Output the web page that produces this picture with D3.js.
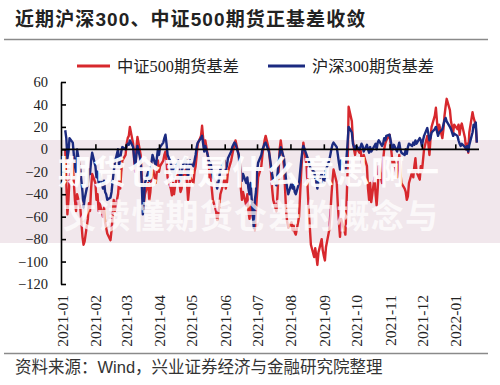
<!DOCTYPE html>
<html><head><meta charset="utf-8">
<script src="https://cdn.jsdelivr.net/npm/d3@7"></script>
<style>html,body{margin:0;padding:0;background:#fff;}svg{display:block;}</style>
</head><body>
<svg id="chart" width="500" height="385"></svg>
<script>
const titleText = "近期沪深300、中证500期货正基差收敛";
const sourceText = "资料来源：Wind，兴业证券经济与金融研究院整理";
const watermarkLines = ["期货仓差是什么意思啊一", "文读懂期货仓差的概念与"];
const seriesNames = ["中证500期货基差", "沪深300期货基差"];
const seriesColors = ["#d7282d", "#1b2a80"];
const yTickValues = [60, 40, 20, 0, -20, -40, -60, -80, -100, -120];
const monthLabels = ["2021-01","2021-02","2021-03","2021-04","2021-05","2021-06","2021-07","2021-08","2021-09","2021-10","2021-11","2021-12","2022-01"];
const firstDay = "2021-01-04", lastDay = "2022-01-21";

// 中证500期货基差 (one value per weekday)
const csi500 = [
  0,-30,-58,-45,-25,-12,-30,-45,-55,-40,-52,-65,-78,-85,-82,-62,-48,-55,-35,-22,
  -30,-45,-40,-55,-48,-60,-52,-65,-70,-75,-81,-72,-60,-45,-55,-40,-28,-35,-20,-10,
  -5,5,10,12,20,5,-10,-20,0,11,-5,-25,-35,-48,-40,-30,-45,-38,-25,-15,-30,-20,-10,
  -20,-15,-10,-5,-2,-10,-25,-35,-41,-30,-40,-32,-20,-30,-38,-35,-25,-18,-30,-45,-35,-25,
  -30,-20,-15,-5,5,12,21,10,0,8,-10,-25,-20,-35,-45,-55,-63,-58,-50,-40,-30,
  -25,-35,-30,-20,-10,-5,0,3,8,-5,-20,-35,-45,-38,-50,-40,-55,-62,-50,-65,-72,-55,
  -40,-25,-15,-5,2,8,12,0,-10,-20,-35,-45,-55,-40,-20,0,8,-15,-35,-55,-65,-70,
  -65,-72,-68,-74,-76,-60,-40,-20,-5,6,-15,-35,-55,-70,-85,-96,-88,-95,-103,-92,-80,-90,
  -95,-99,-87,-72,-58,-42,-28,-18,-30,-50,-65,-78,-62,-72,-76,-50,-20,38,25,8,0,-5,
  2,-3,0,-8,-20,-5,-15,-35,-45,-30,-47,-25,-40,-50,-35,-15,-30,-10,0,5,8,
  13,5,-5,-15,-10,-25,-15,-5,-20,-30,-35,-38,-45,-42,-30,-20,-25,-15,-8,-20,-27,-15,
  -20,-10,0,12,5,-5,10,20,30,37,25,15,22,10,18,30,38,45,35,25,20,15,22,
  18,22,13,20,23,10,0,5,-3,15,33,28,25,20,6
];
// 沪深300期货基差 (one value per weekday)
const hs300 = [
  17,10,-8,-2,10,6,-5,-15,-20,0,-18,-28,-38,-52,-44,-30,-18,-22,-10,-3,
  -15,-25,-20,-30,-22,-35,-28,-38,-40,-45,-43,-38,-28,-20,-12,0,-15,-8,-2,2,
  0,3,5,4,8,2,-8,-15,-5,3,-10,-30,-58,-45,-30,-20,-28,-22,-12,-5,-15,-8,0,
  -5,2,6,10,13,5,-5,-12,-20,-15,-25,-18,-10,-20,-28,-22,-15,-8,-18,-25,-15,-10,
  -15,-10,-5,2,6,10,12,5,-2,3,-8,-15,-12,-20,-25,-30,-35,-30,-25,-18,-12,
  -10,-18,-15,-8,-2,2,4,6,5,-5,-12,-20,-28,-22,-30,-25,-35,-40,-30,-70,-45,-38,
  -20,-12,-5,0,2,5,6,-2,-8,-15,-22,-28,-32,-22,-12,-5,2,-8,-18,-28,-35,-40,
  -30,-35,-32,-38,-40,-30,-20,-10,-2,3,-5,-8,-10,-15,-18,-20,-25,-30,-35,-28,-22,-25,
  -30,-25,-18,-10,-5,0,4,6,2,-5,-12,-18,-10,-15,-20,-8,5,20,15,5,2,0,
  3,0,2,5,3,-2,4,0,-3,2,-2,3,5,0,6,8,3,5,10,8,12,
  13,8,3,0,4,-2,2,6,0,-3,-5,0,-4,2,5,3,6,4,8,5,10,8,
  3,8,12,19,14,8,10,15,18,20,16,12,15,18,22,26,28,25,20,18,15,12,14,
  12,8,5,3,5,2,0,3,-2,4,15,22,20,24,6
];

const parse = d3.timeParse("%Y-%m-%d");
const parseM = d3.timeParse("%Y-%m");
const dates = d3.timeDay.range(parse(firstDay), d3.timeDay.offset(parse(lastDay), 1))
  .filter(d => d.getDay() !== 0 && d.getDay() !== 6);

const svg = d3.select("#chart");
const serifCJK = '"Liberation Serif","Times New Roman","Noto Sans CJK SC",serif';
const sansCJK = '"Liberation Sans","Noto Sans CJK SC",sans-serif';

// title
svg.append("text").attr("x", 15).attr("y", 26)
  .attr("font-family", sansCJK).attr("font-size", 19).attr("font-weight", "bold")
  .attr("letter-spacing", 1.1).attr("fill", "#222").text(titleText);
svg.append("line").attr("x1", 4).attr("x2", 488).attr("y1", 39.5).attr("y2", 39.5)
  .attr("stroke", "#8a8a8a").attr("stroke-width", 1.5);

const x = d3.scaleTime().domain([parse("2021-01-01"), parse("2022-01-23")]).range([62, 479]);
const y = d3.scaleLinear().domain([-120, 60]).range([284, 82]);

// watermark band (behind the lines)
svg.append("rect").attr("x", 0).attr("y", 140).attr("width", 500).attr("height", 103)
  .attr("fill", "#d9bfcd").attr("opacity", 0.38);

// legend
const legend = svg.append("g");
[[77, 110, 117], [268, 305, 312]].forEach((p, i) => {
  legend.append("line").attr("x1", p[0]).attr("x2", p[1]).attr("y1", 66).attr("y2", 66)
    .attr("stroke", seriesColors[i]).attr("stroke-width", 3);
  legend.append("text").attr("x", p[2]).attr("y", 71.5)
    .attr("font-family", serifCJK).attr("font-size", 16.3).attr("fill", "#222")
    .text(seriesNames[i]);
});

// lines
const line = vals => d3.line().x((d, i) => x(dates[i])).y(d => y(d))(vals);
const n = Math.min(dates.length, csi500.length, hs300.length);
[csi500, hs300].forEach((s, i) => {
  svg.append("path").attr("d", line(s.slice(0, n))).attr("fill", "none")
    .attr("stroke", seriesColors[i]).attr("stroke-width", 2.4).attr("stroke-linejoin", "round");
});

// y axis
const yAxis = svg.append("g").attr("transform", "translate(61,0)")
  .call(d3.axisLeft(y).tickValues(yTickValues).tickSizeInner(-5).tickSizeOuter(0).tickPadding(13));
yAxis.selectAll("path,line").attr("stroke", "#000").attr("stroke-width", 1.6);
yAxis.selectAll("text").attr("font-family", serifCJK).attr("font-size", 14.5).attr("fill", "#222");

// x axis at zero with upward ticks
const monthDates = monthLabels.map(parseM);
const xAxis = svg.append("g").attr("transform", `translate(0,${y(0)})`)
  .call(d3.axisBottom(x).tickValues(monthDates.slice(1)).tickSizeInner(-5).tickSizeOuter(0).tickFormat(""));
xAxis.select(".domain").attr("d", `M61,0H479`);
xAxis.selectAll("path,line").attr("stroke", "#000").attr("stroke-width", 1.6);

// x labels at bottom
const xLab = svg.append("g").attr("transform", "translate(0,295)")
  .call(d3.axisBottom(x).tickValues(monthDates).tickSize(0).tickFormat(d3.timeFormat("%Y-%m")));
xLab.select(".domain").remove();
xLab.selectAll("text").attr("transform", "rotate(-90)").attr("text-anchor", "end")
  .attr("x", 0).attr("y", 0).attr("dy", "0.35em")
  .attr("font-family", serifCJK).attr("font-size", 15.5).attr("fill", "#222");

// watermark text
svg.append("text").attr("x", 58).attr("y", 184).attr("font-family", sansCJK)
  .attr("font-size", 33).attr("font-weight", "bold").attr("letter-spacing", 1.8)
  .attr("fill", "#fff").attr("opacity", 0.93).text(watermarkLines[0]);
svg.append("text").attr("x", 63).attr("y", 228).attr("font-family", sansCJK)
  .attr("font-size", 33).attr("font-weight", "bold").attr("letter-spacing", 1.2)
  .attr("fill", "#fff").attr("opacity", 0.72).text(watermarkLines[1]);

// source
svg.append("line").attr("x1", 4).attr("x2", 488).attr("y1", 353.5).attr("y2", 353.5)
  .attr("stroke", "#8a8a8a").attr("stroke-width", 1.5);
svg.append("text").attr("x", 15).attr("y", 373)
  .attr("font-family", sansCJK).attr("font-size", 16.5).attr("fill", "#333").text(sourceText);
</script>
</body></html>
